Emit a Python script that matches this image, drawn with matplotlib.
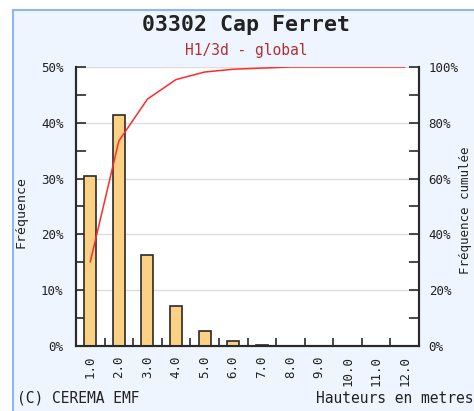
import numpy as np
import matplotlib
matplotlib.use("Agg")
import matplotlib.pyplot as plt
from matplotlib.patches import Rectangle
from matplotlib.ticker import MultipleLocator, FixedLocator

# ---------- Data ----------
heights = ["1.0", "2.0", "3.0", "4.0", "5.0", "6.0", "7.0", "8.0", "9.0", "10.0", "11.0", "12.0"]
freq = [30.5, 41.4, 16.3, 7.2, 2.6, 0.9, 0.2, 0.0, 0.0, 0.0, 0.0, 0.0]
cumul = [30.2, 73.5, 88.5, 95.5, 98.2, 99.2, 99.6, 100.0, 100.0, 100.0, 100.0, 100.0]

title = "03302 Cap Ferret"
subtitle = "H1/3d - global"

# ---------- Style ----------
mono = "DejaVu Sans Mono"
bg = "#eef5fe"
bar_color = "#fdd183"
edge = "#2a2a2a"
txt = "#222222"

fig = plt.figure(figsize=(4.74, 4.11), dpi=100)
fig.patch.set_facecolor("white")

# framed light-blue panel (top-left border visible only)
fig.patches.append(Rectangle((13 / 474, -0.1), 1.0, 1 - 10 / 411 + 0.1,
                             transform=fig.transFigure, facecolor=bg,
                             edgecolor="#8fb5f5", linewidth=1.5, zorder=-5))

ax = fig.add_axes([76 / 474, 1 - 346 / 411, 343 / 474, 279 / 411])
ax.set_facecolor("white")

x = np.arange(len(heights))
ax.bar(x, freq, width=0.42, color=bar_color, edgecolor=edge, linewidth=1.2, zorder=3)

ax.set_xlim(-0.5, len(heights) - 0.5)
ax.set_ylim(0, 50)
ax.yaxis.set_major_locator(MultipleLocator(10))
ax.yaxis.set_minor_locator(MultipleLocator(5))
ax.set_yticklabels([f"{int(v)}%" for v in ax.get_yticks()], family=mono, fontsize=9, color=txt)
ax.grid(axis="y", color="#dddddd", linewidth=1, zorder=0)

ax.set_xticks(x)
ax.set_xticklabels(heights, rotation=90, family=mono, fontsize=9, color=txt)
ax.tick_params(axis="x", which="major", length=0, pad=7)
ax.xaxis.set_minor_locator(FixedLocator(np.arange(len(heights)) + 0.5))
ax.tick_params(axis="x", which="minor", direction="in", length=6, width=1.2, color=edge)
ax.tick_params(axis="y", which="both", direction="in", length=7, width=1.2, color=edge)
ax.tick_params(axis="y", which="major", pad=9)

for s in ax.spines.values():
    s.set_color(edge)
    s.set_linewidth(1.5)
ax.spines["top"].set_visible(False)

# ---------- Cumulative frequency ----------
ax2 = ax.twinx()
ax2.plot(x, cumul, color="#ff2a2a", linewidth=1.1, zorder=4)
ax2.set_ylim(0, 100)
ax2.yaxis.set_major_locator(MultipleLocator(20))
ax2.yaxis.set_minor_locator(MultipleLocator(10))
ax2.set_yticklabels([f"{int(v)}%" for v in ax2.get_yticks()], family=mono, fontsize=9, color=txt)
ax2.tick_params(axis="y", which="both", direction="in", length=7, width=1.2, color=edge, pad=7)
for s in ax2.spines.values():
    s.set_color(edge)
    s.set_linewidth(1.5)
ax2.spines["top"].set_visible(False)

# axis titles placed like the original (right one hugs the edge)
fig.text(21 / 474, 1 - 212 / 411, "Fréquence", rotation=90, ha="center", va="center",
         family=mono, fontsize=9.5, color=txt)
fig.text(466 / 474, 1 - 210 / 411, "Fréquence cumulée", rotation=90, ha="center", va="center",
         family=mono, fontsize=9, color=txt)

# ---------- Titles / footer ----------
fig.text(246 / 474, 1 - 25 / 411, title, ha="center", va="center",
         family=mono, fontsize=15.5, fontweight="bold", color=txt)
fig.text(246 / 474, 1 - 51 / 411, subtitle, ha="center", va="center",
         family=mono, fontsize=10.5, color="#b03030")
fig.text(17 / 474, 1 - 398 / 411, "(C) CEREMA EMF", ha="left", va="center",
         family=mono, fontsize=10.5, color=txt)
fig.text(1.0, 1 - 398 / 411, "Hauteurs en metres", ha="right", va="center",
         family=mono, fontsize=10.5, color=txt)

fig.savefig("out.png", dpi=100, facecolor=fig.get_facecolor())
